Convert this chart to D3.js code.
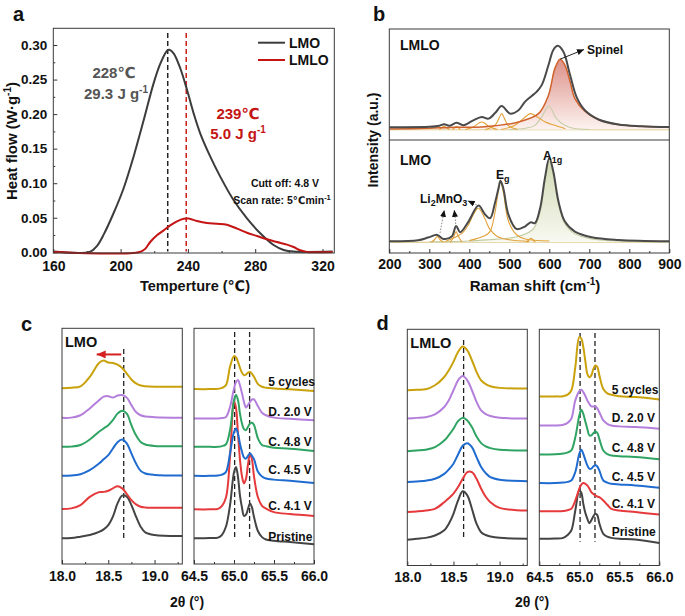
<!DOCTYPE html>
<html><head><meta charset="utf-8">
<script src="https://cdn.jsdelivr.net/npm/d3@7"></script>
<style>
body{margin:0;background:#fff}
svg text{font-family:"Liberation Sans",Arial,"DejaVu Sans",sans-serif;font-weight:bold}
</style></head><body>
<svg id="fig" width="685" height="616" xmlns="http://www.w3.org/2000/svg"></svg>
<script>
// ================= DATA =================
// ---- Panel a: DSC ----
const dscTicksX = [160, 200, 240, 280, 320];
const dscMinorX = [180, 220, 260, 300];
const dscTicksY = [0, 0.05, 0.10, 0.15, 0.20, 0.25, 0.30];
const dscMinorY = [0.025, 0.075, 0.125, 0.175, 0.225, 0.275];
const lmoTemp = [160,182,186,190,195.8,201.8,207.7,213.7,219.6,223.6,227.6,229,231.5,235.5,239.5,243.4,247.3,253.3,259.2,267.1,275.1,283,290.9,296.9,302.8,326];
const lmoHeat = [0.001,0.001,0.0094,0.026,0.0565,0.0927,0.1384,0.191,0.2445,0.273,0.2918,0.293,0.2879,0.266,0.2349,0.2011,0.1722,0.1384,0.1095,0.0757,0.0492,0.0275,0.0106,0.0034,0.001,0.001];
const lmloTemp = [160,211.4,214.7,217.6,221.6,225.6,229.5,233.5,237.5,240.4,245.4,251.3,257.3,263.2,269.2,275.1,281.1,287,293,298.9,302.8,306.8,310.7,326];
const lmloHeat = [0.0005,0.0005,0.0053,0.0149,0.0246,0.0318,0.039,0.0448,0.0486,0.0488,0.0453,0.0424,0.0414,0.04,0.0342,0.0284,0.0236,0.0188,0.0149,0.0111,0.0077,0.0029,0.0005,0.0005];
const dscPeaks = [228, 239];

// ---- Panel b: Raman ----
const ramanTicks = [200,300,400,500,600,700,800,900];
const ramanMinor = [250,350,450,550,650,750,850];
// LMLO (top)
const lmloRamanX = [200,300,325,337,350,368,385,410,431,448,465,481,502,523,539,556,568,581,598,610,621,635,652,668,689,723,773,830,900];
const lmloRamanY = [2.8,3.2,4.5,6.4,4.4,8,5.2,11,15,13,20,28,19,23,33,40,45,53,77,95,100,93,65,39,23,12,6,4,3];
const spinelX = [200,300,350,439,523,573,598,614,627,639,652,664,689,723,773,830,900];
const spinelY = [0.5,1.5,2.5,3.2,9,19,41,73,84,77,57,37,22,12,6,4,3];
const lmloA1gX = [500,540,564,581,599,618,639,660,700];
const lmloA1gY = [0,1.5,5,15,28,13,5,1.5,0];
const lmloC481X = [440,464,474,481,488,497,520];
const lmloC481Y = [0,5,13,19,13,5,0];
const lmloC431X = [390,410,425,431,437,448,470];
const lmloC431Y = [0,3,8,9,8,4,0];
const lmloC553X = [480,514,535,553,570,590,614,640];
const lmloC553Y = [0,5,13,19,15,9,5,1];
const lmloC337X = [325,333,337,341,350];
const lmloC337Y = [0,3,4,3,0];
const lmloC368X = [358,365,368,371,378];
const lmloC368Y = [0,3,4,3,0];
// LMO (bottom)
const lmoRamanX = [200,272,297,320,335,356,367,377,398,423,439,452,464,473,478,485,498,518,539,554,564,577,589,600,610,623,639,664,706,773,900];
const lmoRamanY = [1.2,2.4,5.6,8.8,4,6.8,19.5,12,24.7,43.8,33.5,28.7,46.6,64.5,73.3,64.5,32.7,15.9,18.7,23.9,22.7,40.6,76.5,100.4,84.5,48.6,24.7,12.7,6,2.8,1.2];
const lmoA1gX = [300,400,450,500,530,560,577,589,600,610,623,639,664,706,773,900];
const lmoA1gY = [0.5,1.5,3,5,8,16,36,72,97,80,45,22,10,4,1.5,0.5];
const lmoEgX = [400,440,452,464,473,478,485,498,518,540,600];
const lmoEgY = [2,8,13,35,62,72,60,25,9,4,1.5];
const lmoC423X = [340,360,380,398,410,423,439,452,470,500,550];
const lmoC423Y = [1,5,10,21,33,40.5,28,15,7,3,1];
const lmoC367X = [352,360,364,367,370,375,382];
const lmoC367Y = [0,5,10,12.7,10,5,0];
const lmoC320X = [305,313,320,327,335];
const lmoC320Y = [0,3,6.7,3,0];
const lmoC554X = [543,549,554,559,565];
const lmoC554Y = [0,3,4.8,3,0];
// annotation arrows (Raman shift, intensity) start -> end
const li2mno3From = [[326.8,11.1],[366.8,18.3],[418.5,44.6]];
const li2mno3To   = [[337.5,38.6],[362.5,38.6],[396,49.4]];

// ---- Panels c, d: XRD ----
const xrdLabels = ['Pristine','C. 4.1 V','C. 4.5 V','C. 4.8 V','D. 2.0 V','5 cycles'];
const thetaLowTicks = [18.0, 18.5, 19.0];
const thetaLowMinor = [18.25, 18.75, 19.25];
const thetaHighTicks = [64.5, 65.0, 65.5, 66.0];
const thetaHighMinor = [64.75, 65.25, 65.75];
const thetaLow = [18.0,18.1,18.2,18.3,18.4,18.45,18.5,18.55,18.6,18.65,18.7,18.75,18.8,18.85,18.9,19.0,19.3];
const thetaHigh = [64.5,64.7,64.8,64.85,64.9,64.95,65.0,65.025,65.05,65.075,65.1,65.125,65.15,65.175,65.2,65.225,65.25,65.3,65.35,65.4,65.5,65.7,66.0];
// LMO low angle (111)
const lmoLowPristine = [0,0.1,0.7,1.4,2.7,3.8,5.6,9.2,14.8,18.1,17.7,14.1,9.2,4.9,2.5,1.4,1.0];
const lmoLowC41      = [0,0.3,1.7,5.2,7.2,7.3,7.8,8.8,9.7,8.8,6.4,3.8,2.0,1.0,0.7,0.6,0.6];
const lmoLowC45      = [0,0.1,0.7,2.4,5.2,7.0,8.8,11.6,14.3,15.4,13.8,9.5,5.2,2.1,1.0,0.4,0.1];
const lmoLowC48      = [0,0.1,0.8,3.1,6.4,7.8,9.2,11.3,14.1,15.3,14.1,9.2,4.9,2.1,1.0,0.4,0.3];
const lmoLowD20      = [0,0.1,1.1,4.0,7.5,9.0,9.2,8.6,9.5,9.7,8.6,5.4,2.5,1.1,0.6,0.3,0];
const lmoLow5cyc     = [0,0.2,0.8,4.8,10.7,11.7,10.9,10.7,10.0,8.6,6.2,3.7,2.0,1.1,0.8,0.6,0.6];
const lmoLowOffset   = [10.9,23.3,37.4,49.7,62.0,74.6];
// LMO high angle
const lmoHighPristine = [0,0.1,0.3,1.5,5,14,28,30.3,26,18,13,9.5,10,12.5,14.8,13,9,3,0.5,-0.5,-1,-1.6,-2.5];
const lmoHighC41      = [0,0,0.2,1.5,5,22,46,43,32,21,14,11,13,19,23.5,21,14,5,1.5,0.3,-1.2,-2,-2.8];
const lmoHighC45      = [0,0,0.1,0.5,1.7,9.5,18.6,20.1,17.9,13.5,10.2,7.8,7.3,8.5,9.5,8.5,7.1,1.7,-0.3,-1.1,-1.6,-2.1,-3.0];
const lmoHighC48      = [0,0,0,0.3,1.1,7.1,19.8,22.0,19.8,14,9.9,7.5,7.1,8.5,9.9,10.2,9.3,3.5,0.8,0.3,-0.4,-0.8,-1.8];
const lmoHighD20      = [0,0,0,0.2,0.7,4.9,12.7,15.5,16.4,14,10.7,7,4.7,5.8,7.1,8.1,8.1,5.2,2.5,1.4,0.4,-0.1,-0.7];
const lmoHigh5cyc     = [0,0,0.1,0.5,1.7,9.5,14.0,13.5,11.6,9,6.9,5.9,6.2,7.0,7.3,6.5,5.2,2.1,1.0,0.6,0.3,-0.1,-0.8];
const lmoHighOffset   = [10.9,23.2,37.4,49.7,61.7,74.2];
// LMLO low angle
const lmloLowPristine = [0,0.4,0.8,1.8,4.0,6.8,11.0,16.7,20.5,18.8,13.1,6.8,3.2,2.0,1.4,0.8,0.4];
const lmloLowC41      = [0,0.3,0.7,1.4,4.2,5.9,7.8,10.6,14.1,16.9,16.9,14.1,9.9,6.5,4.2,1.8,0.7];
const lmloLowC45      = [0,0.3,0.6,1.4,3.5,5.4,7.8,11.7,15.4,16.5,14.8,10.6,6.4,3.8,2.1,1.0,0.4];
const lmloLowC48      = [0,0.3,0.6,1.7,4.5,6.8,9.5,12.7,14.1,13.0,10.2,6.2,3.4,2.0,1.3,0.6,0.3];
const lmloLowD20      = [0,0.3,0.6,1.8,4.9,7.8,12.0,16.2,18.0,16.2,12.0,7.1,3.5,1.9,1.1,0.4,0];
const lmloLow5cyc     = [0,0.2,0.4,2.1,5.6,8.5,12.0,16.2,18.5,16.9,12.7,7.8,4.2,2.6,1.7,1.0,0.7];
const lmloLowOffset   = [10.9,22.6,35.3,48.4,62.2,74.2];
// LMLO high angle
const lmloHighPristine = [0,0.1,0.4,1.5,3.5,12.0,20.5,19.5,14.8,11,8.5,6.6,7.8,9.5,10.6,10.0,6.6,2.1,0.9,0.4,0,-0.3,-1.8];
const lmloHighC41      = [0,0,0.1,0.4,1.0,4.5,9.5,11.2,11.9,11.6,10.9,9.6,8.1,7.3,6.6,6.2,5.9,4.5,2.7,1.0,0.3,-0.4,-1.4];
const lmloHighC45      = [0,0,0.2,0.5,1.1,4.7,12.4,14.1,12.4,9.8,7.5,6.1,6.1,7,7.5,7.0,5.4,1.1,0.2,-0.3,-0.6,-1.0,-2.0];
const lmloHighC48      = [0,0.1,0.4,0.8,1.7,7.3,16.5,18.9,17.2,14,10.9,8.1,8.1,9.0,9.7,9.2,6.6,1.7,0.2,-0.4,-0.7,-1.1,-2.0];
const lmloHighD20      = [0,0,0.3,1,2.8,10.6,14.5,15.1,14.1,12.5,10.6,9.2,8.1,8.0,8.1,7.2,5.6,2.1,0.7,0,-0.4,-0.7,-1.4];
const lmloHigh5cyc     = [0,0,0.1,0.6,2.5,12.4,25.1,24.5,20.9,15,9.6,8.1,8.9,11.5,13.1,12.5,9.0,3.1,1.3,0.7,0.1,-0.3,-1.3];
const lmloHighOffset   = [11.3,23.0,34.9,47.0,59.3,71.6];
const lmoLowRef = [18.667], lmoHighRef = [65.008, 65.195];
const lmloLowRef = [18.61], lmloHighRef = [65.01, 65.196];

// ================= STYLE =================
const FONT = '"Liberation Sans", Arial, "DejaVu Sans", sans-serif';
const xrdColors = ['#444444','#e5393b','#1f6bd0','#2fa462','#b47fdc','#c9a10a'];
const svg = d3.select('#fig');
const defs = svg.append('defs');
function marker(id, color, w, h){
  defs.append('marker').attr('id',id).attr('markerUnits','userSpaceOnUse')
    .attr('markerWidth',w).attr('markerHeight',h).attr('refX',w).attr('refY',h/2)
    .attr('orient','auto').append('path')
    .attr('d',`M0,0L${w},${h/2}L0,${h}Z`).attr('fill',color);
}
marker('arrK','#111',7,6);
marker('arrR','#d42020',9,8);
function vgrad(id, c1, c2){
  const g = defs.append('linearGradient').attr('id',id).attr('x1',0).attr('y1',0).attr('x2',0).attr('y2',1);
  g.append('stop').attr('offset','0%').attr('stop-color',c1);
  g.append('stop').attr('offset','100%').attr('stop-color',c2);
}
vgrad('gSpinel','#dc9088','#fdf3f0');
vgrad('gA1g','#d2dab6','#f8f9f1');
vgrad('gA1gTop','#d6ddc2','#f6f8f0');

const zip = (xs, ys) => xs.map((x,i)=>[x, ys[i]]);
const smooth = d3.curveCatmullRom.alpha(0.5);

function text(g, x, y, str, opts={}){
  const t = g.append('text').attr('x',x).attr('y',y).text(str)
    .attr('font-size',opts.size||14).attr('fill',opts.fill||'#111')
    .attr('text-anchor',opts.anchor||'start');
  if(opts.weight) t.attr('font-weight',opts.weight);
  return t;
}
function axisStyle(sel, fs){
  sel.attr('font-family',FONT).attr('font-size',fs);
  sel.select('.domain').remove();
  sel.selectAll('.tick line').attr('stroke','#333').attr('stroke-width',1);
  sel.selectAll('.tick text').attr('fill','#111').attr('font-weight','bold');
}
function frame(g, x0, y0, x1, y1){
  g.append('rect').attr('x',x0).attr('y',y0).attr('width',x1-x0).attr('height',y1-y0)
    .attr('fill','none').attr('stroke','#3a3a3a').attr('stroke-width',1);
}

// ================= PANEL A =================
(function(){
  const g = svg.append('g');
  const X0=53.3, X1=334.3, Y0=28.3, Y1=253;
  const x = d3.scaleLinear().domain([160,327]).range([X0,X1]);
  const y = d3.scaleLinear().domain([-0.001,0.3242]).range([Y1,Y0]);
  g.append('g').attr('transform',`translate(0,${Y1})`)
    .call(d3.axisBottom(x).tickValues(dscTicksX).tickSizeInner(-4).tickSizeOuter(0).tickPadding(8).tickFormat(d3.format('d')))
    .call(s=>axisStyle(s,14));
  g.append('g').attr('transform',`translate(0,${Y1})`)
    .call(d3.axisBottom(x).tickValues(dscMinorX).tickSizeInner(-2).tickSizeOuter(0).tickFormat(''))
    .call(s=>axisStyle(s,14));
  g.append('g').attr('transform',`translate(${X0},0)`)
    .call(d3.axisLeft(y).tickValues(dscTicksY).tickSizeInner(-4).tickSizeOuter(0).tickPadding(6).tickFormat(d3.format('.2f')))
    .call(s=>axisStyle(s,13.5));
  g.append('g').attr('transform',`translate(${X0},0)`)
    .call(d3.axisLeft(y).tickValues(dscMinorY).tickSizeInner(-2).tickSizeOuter(0).tickFormat(''))
    .call(s=>axisStyle(s,13.5));
  const dashCol = ['#222','#d01c1c'];
  dscPeaks.forEach((p,i)=>{
    g.append('line').attr('x1',x(p)).attr('x2',x(p)).attr('y1',y(0.3175)).attr('y2',y(0.001))
      .attr('stroke',dashCol[i]).attr('stroke-width',1.5).attr('stroke-dasharray','5,3');
  });
  const line = d3.line().x(d=>x(d[0])).y(d=>y(d[1])).curve(smooth);
  g.append('path').attr('d',line(zip(lmoTemp,lmoHeat))).attr('fill','none').attr('stroke','#3c3c3c').attr('stroke-width',2);
  g.append('path').attr('d',line(zip(lmloTemp,lmloHeat))).attr('fill','none').attr('stroke','#c41414').attr('stroke-width',2);
  frame(g,X0,Y0,X1,Y1);
  [['LMO','#3c3c3c',42.7],['LMLO','#c41414',60]].forEach(([lab,c,yy])=>{
    g.append('line').attr('x1',258).attr('x2',285).attr('y1',yy).attr('y2',yy).attr('stroke',c).attr('stroke-width',2);
    text(g,289,yy+5,lab,{size:14,weight:'normal'});
  });
  text(g,114,78,'228℃',{size:15,fill:'#555',anchor:'middle'});
  const t1 = text(g,116,99,'29.3 J g',{size:15,fill:'#555',anchor:'middle'});
  t1.append('tspan').attr('dy',-6).attr('font-size',10).text('-1');
  text(g,238,119,'239℃',{size:15,fill:'#c41414',anchor:'middle'});
  const t2 = text(g,238,139,'5.0 J g',{size:15,fill:'#c41414',anchor:'middle'});
  t2.append('tspan').attr('dy',-6).attr('font-size',10).text('-1');
  text(g,285,186.5,'Cutt off: 4.8 V',{size:10.5,anchor:'middle'});
  const t3 = text(g,282,204,'Scan rate: 5℃min',{size:10.5,anchor:'middle'});
  t3.append('tspan').attr('dy',-4).attr('font-size',7.5).text('-1');
  const yt = text(g,0,0,'Heat flow (W·g',{size:15,anchor:'middle'}).attr('transform','translate(17,141) rotate(-90)');
  yt.append('tspan').attr('dy',-6).attr('font-size',10).text('-1');
  yt.append('tspan').attr('dy',6).text(')');
  text(g,195,291,'Temperture (℃)',{size:14.5,anchor:'middle'});
  text(g,13,21,'a',{size:20});
})();

// ================= PANEL B =================
(function(){
  const g = svg.append('g');
  const X0=389.3, X1=669.3, Y0=29, YM=140, Y1=253;
  const x = d3.scaleLinear().domain([200,900]).range([X0,X1]);
  const yT = d3.scaleLinear().domain([-12.5,120]).range([YM,Y0]);
  const yB = d3.scaleLinear().domain([-12.8,122]).range([Y1,YM]);
  const clipT = defs.append('clipPath').attr('id','clipBT');
  clipT.append('rect').attr('x',X0).attr('y',Y0).attr('width',X1-X0).attr('height',YM-Y0);
  const clipB = defs.append('clipPath').attr('id','clipBB');
  clipB.append('rect').attr('x',X0).attr('y',YM).attr('width',X1-X0).attr('height',Y1-YM);

  function drawSet(y, clip, fills, lines, total){
    const gg = g.append('g').attr('clip-path',`url(#${clip})`);
    const area = d3.area().x(d=>x(d[0])).y0(y(0)).y1(d=>y(d[1])).curve(smooth);
    const line = d3.line().x(d=>x(d[0])).y(d=>y(d[1])).curve(smooth);
    gg.append('line').attr('x1',X0).attr('x2',X1).attr('y1',y(0)).attr('y2',y(0)).attr('stroke','#d9c27a').attr('stroke-width',1.2);
    fills.forEach(f=>{
      gg.append('path').attr('d',area(f.d)).attr('fill',f.fill).attr('opacity',f.op||1);
    });
    lines.forEach(l=>{
      gg.append('path').attr('d',line(l.d)).attr('fill','none').attr('stroke',l.c).attr('stroke-width',l.w||1.1);
    });
    gg.append('path').attr('d',line(total)).attr('fill','none').attr('stroke','#4a4a4a').attr('stroke-width',2);
  }
  const orange = '#e2a239';
  drawSet(yT,'clipBT',
    [{d:zip(lmloA1gX,lmloA1gY),fill:'url(#gA1gTop)'},{d:zip(spinelX,spinelY),fill:'url(#gSpinel)'}],
    [{d:zip(lmloA1gX,lmloA1gY),c:'#c5cea8'},
     {d:zip(lmloC553X,lmloC553Y),c:orange},{d:zip(lmloC481X,lmloC481Y),c:orange},
     {d:zip(lmloC431X,lmloC431Y),c:orange},{d:zip(lmloC337X,lmloC337Y),c:orange},{d:zip(lmloC368X,lmloC368Y),c:orange},
     {d:zip(spinelX,spinelY),c:'#d0622b',w:1.5}],
    zip(lmloRamanX,lmloRamanY));
  drawSet(yB,'clipBB',
    [{d:zip(lmoA1gX,lmoA1gY),fill:'url(#gA1g)'}],
    [{d:zip(lmoA1gX,lmoA1gY),c:'#c2cba0'},
     {d:zip(lmoEgX,lmoEgY),c:orange},{d:zip(lmoC423X,lmoC423Y),c:orange},
     {d:zip(lmoC367X,lmoC367Y),c:orange},{d:zip(lmoC320X,lmoC320Y),c:orange},{d:zip(lmoC554X,lmoC554Y),c:orange}],
    zip(lmoRamanX,lmoRamanY));
  frame(g,X0,Y0,X1,Y1);
  g.append('line').attr('x1',X0).attr('x2',X1).attr('y1',YM).attr('y2',YM).attr('stroke','#3a3a3a');
  g.append('g').attr('transform',`translate(0,${Y1})`)
    .call(d3.axisBottom(x).tickValues(ramanTicks).tickSizeInner(-4).tickSizeOuter(0).tickPadding(6).tickFormat(d3.format('d')))
    .call(s=>axisStyle(s,14));
  g.append('g').attr('transform',`translate(0,${Y1})`)
    .call(d3.axisBottom(x).tickValues(ramanMinor).tickSizeInner(-2).tickSizeOuter(0).tickFormat(''))
    .call(s=>axisStyle(s,14));
  text(g,400,50,'LMLO',{size:14});
  text(g,400,165,'LMO',{size:14});
  g.append('line').attr('x1',x(627)).attr('y1',yT(84)).attr('x2',584).attr('y2',49.5)
    .attr('stroke','#222').attr('stroke-width',1).attr('marker-end','url(#arrK)');
  text(g,587,54,'Spinel',{size:12});
  const eg = text(g,496,179,'E',{size:12});
  eg.append('tspan').attr('dy',3).attr('font-size',9).text('g');
  const a1g = text(g,543,160,'A',{size:12});
  a1g.append('tspan').attr('dy',3).attr('font-size',9).text('1g');
  const li = text(g,420,203,'Li',{size:12});
  li.append('tspan').attr('dy',3).attr('font-size',9).text('2');
  li.append('tspan').attr('dy',-3).text('MnO');
  li.append('tspan').attr('dy',3).attr('font-size',9).text('3');
  li2mno3From.forEach((s,i)=>{
    const e = li2mno3To[i];
    g.append('line').attr('x1',x(s[0])).attr('y1',yB(s[1])).attr('x2',x(e[0])).attr('y2',yB(e[1]))
      .attr('stroke','#777').attr('stroke-width',0.9).attr('stroke-dasharray','1.5,1.5').attr('marker-end','url(#arrK)');
  });
  const rt = text(g,535,291,'Raman shift (cm',{size:15,anchor:'middle'});
  rt.append('tspan').attr('dy',-6).attr('font-size',10).text('-1');
  rt.append('tspan').attr('dy',6).text(')');
  text(g,0,0,'Intensity (a.u.)',{size:14,anchor:'middle'}).attr('transform','translate(378,140) rotate(-90)');
  text(g,373,21,'b',{size:20});
})();

// ================= PANELS C, D =================
function xrdPanel(opt){
  const g = svg.append('g');
  const {L0,L1,R0,R1,Y0,Y1} = opt;
  const xl = d3.scaleLinear().domain([18.0,19.3]).range([L0,L1]);
  const xr = d3.scaleLinear().domain([64.5,66.0]).range([R0,R1]);
  const y = d3.scaleLinear().domain([0,100]).range([Y1,Y0]);
  [[xl,thetaLowTicks,thetaLowMinor],[xr,thetaHighTicks,thetaHighMinor]].forEach(([sx,tk,mn])=>{
    g.append('g').attr('transform',`translate(0,${Y1})`)
      .call(d3.axisBottom(sx).tickValues(tk).tickSizeInner(-4).tickSizeOuter(0).tickPadding(7).tickFormat(d3.format('.1f')))
      .call(s=>axisStyle(s,14));
    g.append('g').attr('transform',`translate(0,${Y1})`)
      .call(d3.axisBottom(sx).tickValues(mn).tickSizeInner(-2).tickSizeOuter(0).tickFormat(''))
      .call(s=>axisStyle(s,14));
  });
  opt.lowRef.forEach(v=>{
    g.append('line').attr('x1',xl(v)).attr('x2',xl(v)).attr('y1',opt.lowRefY[0]).attr('y2',opt.lowRefY[1])
      .attr('stroke','#222').attr('stroke-width',1.3).attr('stroke-dasharray','5,3');
  });
  opt.highRef.forEach(v=>{
    g.append('line').attr('x1',xr(v)).attr('x2',xr(v)).attr('y1',opt.highRefY[0]).attr('y2',opt.highRefY[1])
      .attr('stroke','#222').attr('stroke-width',1.3).attr('stroke-dasharray','5,3');
  });
  const lineL = (vals,off)=>d3.line().x(d=>xl(d[0])).y(d=>y(d[1]+off)).curve(smooth)(zip(thetaLow,vals));
  const lineR = (vals,off)=>d3.line().x(d=>xr(d[0])).y(d=>y(d[1]+off)).curve(smooth)(zip(thetaHigh,vals));
  opt.low.forEach((vals,i)=>{
    g.append('path').attr('d',lineL(vals,opt.lowOff[i])).attr('fill','none').attr('stroke',xrdColors[i]).attr('stroke-width',2);
  });
  opt.high.forEach((vals,i)=>{
    g.append('path').attr('d',lineR(vals,opt.highOff[i])).attr('fill','none').attr('stroke',xrdColors[i]).attr('stroke-width',2);
  });
  frame(g,L0,Y0,L1,Y1);
  frame(g,R0,Y0,R1,Y1);
  xrdLabels.forEach((lab,i)=>{ text(g,opt.labX,opt.labY[i]+4.5,lab,{size:12}); });
  text(g,L0+3,Y0+19,opt.name,{size:14.5});
  text(g,opt.titleX,607,'2θ (°)',{size:14,anchor:'middle'});
  text(g,opt.letterX,opt.letterY,opt.letter,{size:20});
  return {g,xl,xr,y};
}
const pc = xrdPanel({L0:62,L1:182.3,R0:194,R1:314,Y0:328.3,Y1:564,
  low:[lmoLowPristine,lmoLowC41,lmoLowC45,lmoLowC48,lmoLowD20,lmoLow5cyc], lowOff:lmoLowOffset,
  high:[lmoHighPristine,lmoHighC41,lmoHighC45,lmoHighC48,lmoHighD20,lmoHigh5cyc], highOff:lmoHighOffset,
  lowRef:lmoLowRef, lowRefY:[349,540], highRef:lmoHighRef, highRefY:[332,538],
  labX:268.3, labY:[536.7,505,469,441.7,411.7,381.7], name:'LMO', letter:'c', letterX:21, letterY:331, titleX:187});
pc.g.append('line').attr('x1',pc.xl(18.64)).attr('x2',pc.xl(18.375)).attr('y1',pc.y(88.9)).attr('y2',pc.y(88.9))
  .attr('stroke','#d42020').attr('stroke-width',2).attr('marker-end','url(#arrR)');
xrdPanel({L0:407.3,L1:527.3,R0:539.3,R1:659.3,Y0:329.3,Y1:565.5,
  low:[lmloLowPristine,lmloLowC41,lmloLowC45,lmloLowC48,lmloLowD20,lmloLow5cyc], lowOff:lmloLowOffset,
  high:[lmloHighPristine,lmloHighC41,lmloHighC45,lmloHighC48,lmloHighD20,lmloHigh5cyc], highOff:lmloHighOffset,
  lowRef:lmloLowRef, lowRefY:[340,537], highRef:lmloHighRef, highRefY:[333,541.7],
  labX:611.7, labY:[531,503.3,476,447.3,417.3,389.3], name:'LMLO', letter:'d', letterX:376.5, letterY:330, titleX:532});
</script>
</body></html>
